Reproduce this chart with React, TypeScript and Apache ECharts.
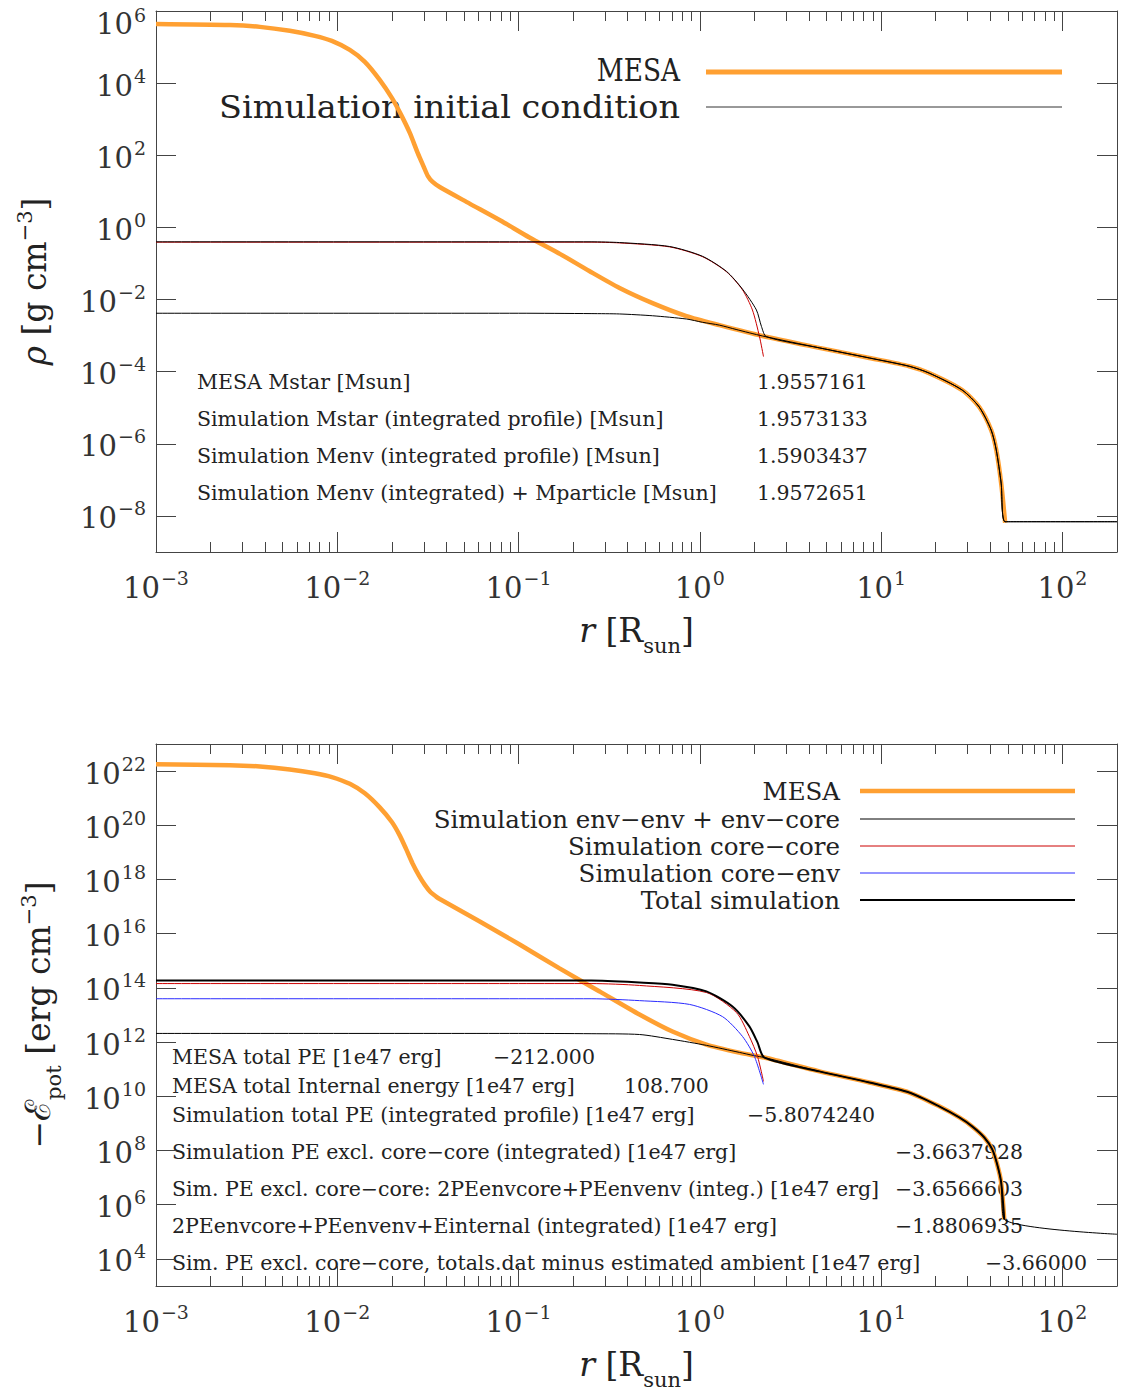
import React, { useEffect, useRef } from "react";
import * as echarts from "echarts";

const FONT = "'DejaVu Serif', 'Liberation Serif', serif";
const ORANGE = "#ffa032";
const RED = "#cc0000";
const BLUE = "#2a2aff";
const AXIS = "#444";
const TXT = "#222";

// axis extents
const X_MIN = 0.001;
const X_MAX = 200;
const TOP_Y_MIN = 1e-9;
const TOP_Y_MAX = 1e6;
const BOT_Y_MIN = 1e3;
const BOT_Y_MAX = 1e23;

// tick values
const xMajorTicks = [1e-3, 1e-2, 1e-1, 1, 10, 100];
const xMinorMantissas = [2, 3, 4, 5, 6, 7, 8, 9];
const xMinorDecades = [1e-3, 1e-2, 1e-1, 1, 10];
const topYTicks = [1e-8, 1e-6, 1e-4, 1e-2, 1, 1e2, 1e4, 1e6];
const botYTicks = [1e4, 1e6, 1e8, 1e10, 1e12, 1e14, 1e16, 1e18, 1e20, 1e22];

// ---------- top panel: density (log10 r [Rsun], log10 rho [g cm^-3]) ----------
const topMesaLogR = [-3.0, -2.592, -2.427, -2.262, -2.124, -2.03, -1.931, -1.848, -1.766, -1.699, -1.65, -1.6, -1.556, -1.523, -1.501, -1.474, -1.435, -1.27, -1.1, -0.94, -0.77, -0.61, -0.443, -0.261, -0.074, 0.108, 0.345, 0.659, 0.935, 1.155, 1.265, 1.447, 1.541, 1.607, 1.635, 1.662, 1.684];
const topMesaLogRho = [5.64, 5.61, 5.56, 5.45, 5.31, 5.17, 4.92, 4.59, 4.09, 3.59, 3.14, 2.62, 2.06, 1.68, 1.43, 1.26, 1.12, 0.66, 0.19, -0.28, -0.74, -1.21, -1.68, -2.1, -2.46, -2.71, -3.01, -3.34, -3.62, -3.85, -4.04, -4.51, -4.98, -5.62, -6.17, -7.09, -8.19];

const topInitLogR = [-3.0, -1.0, -0.6, -0.443, -0.261, -0.074, 0.014, 0.108, 0.2, 0.345, 0.659, 0.935, 1.155, 1.265, 1.447, 1.541, 1.607, 1.635, 1.662, 1.684, 2.301];
const topInitLogRho = [-2.38, -2.38, -2.39, -2.4, -2.45, -2.54, -2.63, -2.71, -2.83, -3.01, -3.34, -3.62, -3.85, -4.04, -4.51, -4.98, -5.62, -6.17, -7.09, -8.16, -8.16];

const topCoreLogR = [-3.0, -1.0, -0.6, -0.443, -0.167, 0.014, 0.147, 0.235, 0.29, 0.329, 0.351];
const topCoreLogRho = [-0.41, -0.41, -0.41, -0.43, -0.54, -0.81, -1.23, -1.73, -2.29, -3.03, -3.58];

const topTotalLogR = [-3.0, -1.0, -0.6, -0.443, -0.167, 0.014, 0.147, 0.235, 0.312, 0.34, 0.367, 0.659, 0.935, 1.155, 1.265, 1.447, 1.541, 1.607, 1.635, 1.662, 1.684, 2.301];
const topTotalLogRho = [-0.4, -0.4, -0.4, -0.42, -0.53, -0.8, -1.22, -1.71, -2.29, -2.75, -3.03, -3.34, -3.62, -3.85, -4.04, -4.51, -4.98, -5.62, -6.17, -7.09, -8.16, -8.16];

// ---------- bottom panel: -E_pot (log10 r, log10 erg cm^-3) ----------
const botMesaLogR = [-3.0, -2.592, -2.427, -2.262, -2.124, -2.03, -1.931, -1.848, -1.766, -1.699, -1.655, -1.62, -1.584, -1.55, -1.518, -1.485, -1.455, -1.435, -1.214, -0.994, -0.774, -0.553, -0.333, -0.151, 0.036, 0.218, 0.356, 0.659, 0.935, 1.155, 1.32, 1.431, 1.502, 1.569, 1.613, 1.64, 1.662, 1.679];
const botMesaLogE = [22.25, 22.22, 22.17, 22.06, 21.92, 21.78, 21.53, 21.18, 20.66, 20.12, 19.62, 19.12, 18.58, 18.15, 17.81, 17.53, 17.37, 17.28, 16.45, 15.6, 14.72, 13.87, 13.02, 12.39, 11.91, 11.61, 11.43, 10.92, 10.51, 10.14, 9.63, 9.22, 8.89, 8.48, 8.04, 7.49, 6.82, 5.46];

const botEnvLogR = [-3.0, -1.0, -0.6, -0.333, -0.151, 0.036, 0.218, 0.3, 0.356, 0.659, 0.935, 1.155, 1.32, 1.431, 1.502, 1.569, 1.613, 1.64, 1.662, 1.679, 2.301];
const botEnvLogE = [12.32, 12.32, 12.31, 12.28, 12.1, 11.88, 11.62, 11.5, 11.43, 10.92, 10.51, 10.14, 9.63, 9.22, 8.89, 8.48, 8.04, 7.49, 6.82, 5.46, 4.91];

const botCoreCoreLogR = [-3.0, -1.0, -0.6, -0.333, 0.036, 0.202, 0.273, 0.318, 0.351];
const botCoreCoreLogE = [14.16, 14.16, 14.16, 14.09, 13.83, 13.09, 12.21, 11.47, 10.55];

const botCoreEnvLogR = [-3.0, -1.0, -0.6, -0.333, -0.057, 0.125, 0.235, 0.301, 0.351];
const botCoreEnvLogE = [13.6, 13.6, 13.6, 13.53, 13.39, 12.94, 12.21, 11.47, 10.44];

const botTotalLogR = [-3.0, -1.0, -0.6, -0.333, -0.151, 0.036, 0.18, 0.273, 0.318, 0.356, 0.659, 0.935, 1.155, 1.32, 1.431, 1.502, 1.569, 1.613, 1.64, 1.662, 1.679];
const botTotalLogE = [14.27, 14.27, 14.27, 14.2, 14.12, 13.87, 13.31, 12.58, 11.99, 11.43, 10.92, 10.51, 10.14, 9.63, 9.22, 8.89, 8.48, 8.04, 7.49, 6.82, 5.46];

// ---------- texts ----------
const topLegendLabels = ["MESA", "Simulation initial condition"];
const topNotes = [
  "MESA Mstar [Msun]",
  "Simulation Mstar (integrated profile) [Msun]",
  "Simulation Menv (integrated profile) [Msun]",
  "Simulation Menv (integrated) + Mparticle [Msun]",
];
const topNoteValues = ["1.9557161", "1.9573133", "1.5903437", "1.9572651"];

const botLegendLabels = [
  "MESA",
  "Simulation env\u2212env + env\u2212core",
  "Simulation core\u2212core",
  "Simulation core\u2212env",
  "Total simulation",
];
const botNotes = [
  "MESA total PE [1e47 erg]",
  "MESA total Internal energy [1e47 erg]",
  "Simulation total PE (integrated profile) [1e47 erg]",
  "Simulation PE excl. core\u2212core (integrated) [1e47 erg]",
  "Sim. PE excl. core\u2212core: 2PEenvcore+PEenvenv (integ.) [1e47 erg]",
  "2PEenvcore+PEenvenv+Einternal (integrated) [1e47 erg]",
  "Sim. PE excl. core\u2212core, totals.dat minus estimated ambient [1e47 erg]",
];
const botNoteValues = ["\u2212212.000", "108.700", "\u22125.8074240", "\u22123.6637928", "\u22123.6566603", "\u22121.8806935", "\u22123.66000"];

function toPoints(logR: number[], logV: number[]) {
  return logR.map((r, i) => [Math.pow(10, r), Math.pow(10, logV[i])]);
}

function makeExpLabel(maxVal: number) {
  const topExp = Math.round(Math.log10(maxVal));
  return (v: number) => {
    const e = Math.round(Math.log10(v));
    const s = e < 0 ? "\u2212" + Math.abs(e) : String(e);
    if (e === topExp) return "{bt|10}{st|" + s + "}";
    return "{b|10}{s|" + s + "}";
  };
}

const labelRich = {
  b: { fontFamily: FONT, fontSize: 29, color: "#333", lineHeight: 34, verticalAlign: "bottom" },
  s: { fontFamily: FONT, fontSize: 19, color: "#333", lineHeight: 20, verticalAlign: "top", padding: [0, 0, 0, 1] },
  bt: { fontFamily: FONT, fontSize: 29, color: "#333", lineHeight: 54, verticalAlign: "bottom" },
  st: { fontFamily: FONT, fontSize: 19, color: "#333", lineHeight: 20, verticalAlign: "bottom", padding: [0, 0, 14, 1] },
};

const nameRich = {
  i: { fontFamily: FONT, fontSize: 33, fontStyle: "italic", color: TXT, lineHeight: 40, verticalAlign: "middle" },
  n: { fontFamily: FONT, fontSize: 33, color: TXT, lineHeight: 40, verticalAlign: "middle" },
  e: { fontFamily: FONT, fontSize: 35, color: TXT, lineHeight: 40, verticalAlign: "middle" },
  s: { fontFamily: FONT, fontSize: 21, color: TXT, lineHeight: 20, verticalAlign: "top" },
  sub: { fontFamily: FONT, fontSize: 21, color: TXT, lineHeight: 22, verticalAlign: "bottom", padding: [0, 0, -6, 0] },
};

function buildXMinor() {
  const out: number[] = [];
  xMinorDecades.forEach((d) => xMinorMantissas.forEach((m) => out.push(parseFloat((m * d).toPrecision(6)))));
  return out;
}

function makeXAxes(gridIndex: number) {
  const minor = buildXMinor();
  const base = {
    type: "log",
    logBase: 10,
    min: X_MIN,
    max: X_MAX,
    gridIndex,
    splitLine: { show: false },
    axisLine: { show: false, onZero: false },
  };
  const lineStyle = { color: AXIS, width: 1 };
  return [
    {
      ...base,
      position: "bottom",
      axisLine: { show: true, onZero: false, lineStyle },
      axisTick: { show: true, inside: true, length: 20, customValues: xMajorTicks, lineStyle },
      axisLabel: { show: true, customValues: xMajorTicks, formatter: makeExpLabel(1e9), rich: labelRich, margin: 16 },
      name: "{i|r}{n| [R}{sub|sun}{n|]}",
      nameLocation: "middle",
      nameGap: 58,
      nameTextStyle: { rich: nameRich },
    },
    {
      ...base,
      position: "bottom",
      axisTick: { show: true, inside: true, length: 10, customValues: minor, lineStyle },
      axisLabel: { show: false },
    },
    {
      ...base,
      position: "top",
      axisLine: { show: true, onZero: false, lineStyle },
      axisTick: { show: true, inside: true, length: 20, customValues: xMajorTicks, lineStyle },
      axisLabel: { show: false },
    },
    {
      ...base,
      position: "top",
      axisTick: { show: true, inside: true, length: 10, customValues: minor, lineStyle },
      axisLabel: { show: false },
    },
  ];
}

function makeYAxes(gridIndex: number, min: number, max: number, ticks: number[], name: string, nameGap: number) {
  const lineStyle = { color: AXIS, width: 1 };
  const base = { type: "log", logBase: 10, min, max, gridIndex, splitLine: { show: false } };
  return [
    {
      ...base,
      position: "left",
      axisLine: { show: true, onZero: false, lineStyle },
      axisTick: { show: true, inside: true, length: 20, customValues: ticks, lineStyle },
      axisLabel: { show: true, customValues: ticks, formatter: makeExpLabel(max), rich: labelRich, margin: 10 },
      name,
      nameLocation: "middle",
      nameGap,
      nameTextStyle: { rich: nameRich },
    },
    {
      ...base,
      position: "right",
      axisLine: { show: true, onZero: false, lineStyle },
      axisTick: { show: true, inside: true, length: 20, customValues: ticks, lineStyle },
      axisLabel: { show: false },
    },
  ];
}

function lineSeries(name: string, data: number[][], xi: number, yi: number, color: string, width: number, z: number) {
  return {
    name,
    type: "line",
    data,
    xAxisIndex: xi,
    yAxisIndex: yi,
    showSymbol: false,
    symbol: "none",
    smooth: 0.25,
    lineStyle: { color, width },
    z,
    silent: true,
  };
}

function textEl(text: string, x: number, y: number, size: number, align: string, lineHeight?: number, scaleX?: number) {
  return {
    type: "text",
    x,
    y,
    scaleX: scaleX || 1,
    silent: true,
    style: {
      text,
      fill: TXT,
      fontSize: size,
      fontFamily: FONT,
      align,
      verticalAlign: "middle",
      lineHeight: lineHeight || Math.round(size * 1.15),
    },
  };
}

function lineEl(x1: number, x2: number, y: number, color: string, width: number) {
  return { type: "line", silent: true, shape: { x1, y1: y, x2, y2: y }, style: { stroke: color, lineWidth: width } };
}

export default function App() {
  const ref = useRef<HTMLDivElement>(null);

  useEffect(() => {
    document.body.style.margin = "0";
    if (!ref.current) return;
    const chart = echarts.init(ref.current, null, { renderer: "svg" });

    const topRows = [382, 419, 456, 493];
    const botRows = [1057, 1086, 1115, 1152, 1189, 1226, 1263];
    const botValueX = [493, 624, 747, 895, 895, 895, 985];
    const topLegendY = [70, 107];
    const topLegendScale = [0.85, 1.08];
    const botLegendY = [791, 819, 846, 873, 900];
    const botLegendColors = [ORANGE, "#000", RED, BLUE, "#000"];
    const botLegendWidths = [4.5, 1, 1, 1, 2];

    const graphic: any[] = [];
    topLegendLabels.forEach((t, i) => graphic.push(textEl(t, 680, topLegendY[i], 31, "right", 30, topLegendScale[i])));
    graphic.push(lineEl(706, 1062, 72, ORANGE, 5));
    graphic.push(lineEl(706, 1062, 107, "#333", 1));
    topNotes.forEach((t, i) => graphic.push(textEl(t, 197, topRows[i], 20.5, "left")));
    topNoteValues.forEach((t, i) => graphic.push(textEl(t, 757, topRows[i], 20.5, "left")));
    botLegendLabels.forEach((t, i) => {
      graphic.push(textEl(t, 840, botLegendY[i], 24.5, "right", 24));
      graphic.push(lineEl(860, 1075, botLegendY[i], botLegendColors[i], botLegendWidths[i]));
    });
    botNotes.forEach((t, i) => graphic.push(textEl(t, 172, botRows[i], 20.5, "left", 24)));
    botNoteValues.forEach((t, i) => graphic.push(textEl(t, botValueX[i], botRows[i], 20.5, "left", 24)));

    const option: any = {
      animation: false,
      backgroundColor: "#ffffff",
      grid: [
        { left: 156, top: 11, width: 961, height: 541, outerBoundsMode: "none" },
        { left: 156, top: 744, width: 961, height: 542, outerBoundsMode: "none" },
      ],
      xAxis: [...makeXAxes(0), ...makeXAxes(1)],
      yAxis: [
        ...makeYAxes(0, TOP_Y_MIN, TOP_Y_MAX, topYTicks, "{i|\u03c1}{n| [g cm}{s|\u22123}{n|]}", 102),
        ...makeYAxes(1, BOT_Y_MIN, BOT_Y_MAX, botYTicks, "{n|\u2212}{e|\u2130}{sub|pot}{n| [erg cm}{s|\u22123}{n|]}", 98),
      ],
      series: [
        lineSeries("MESA", toPoints(topMesaLogR, topMesaLogRho), 0, 0, ORANGE, 4.5, 1),
        lineSeries("Simulation core", toPoints(topCoreLogR, topCoreLogRho), 0, 0, RED, 1, 2),
        lineSeries("Simulation initial condition", toPoints(topInitLogR, topInitLogRho), 0, 0, "#000", 1, 3),
        lineSeries("Simulation total", toPoints(topTotalLogR, topTotalLogRho), 0, 0, "#000", 1, 4),
        lineSeries("MESA", toPoints(botMesaLogR, botMesaLogE), 4, 2, ORANGE, 4.5, 1),
        lineSeries("Simulation env-env + env-core", toPoints(botEnvLogR, botEnvLogE), 4, 2, "#000", 1, 2),
        lineSeries("Simulation core-core", toPoints(botCoreCoreLogR, botCoreCoreLogE), 4, 2, RED, 1, 3),
        lineSeries("Simulation core-env", toPoints(botCoreEnvLogR, botCoreEnvLogE), 4, 2, BLUE, 1, 4),
        lineSeries("Total simulation", toPoints(botTotalLogR, botTotalLogE), 4, 2, "#000", 2, 5),
      ],
      graphic,
    };
    chart.setOption(option);
    return () => chart.dispose();
  }, []);

  return <div ref={ref} style={{ width: 1123, height: 1391, display: "block" }} />;
}
